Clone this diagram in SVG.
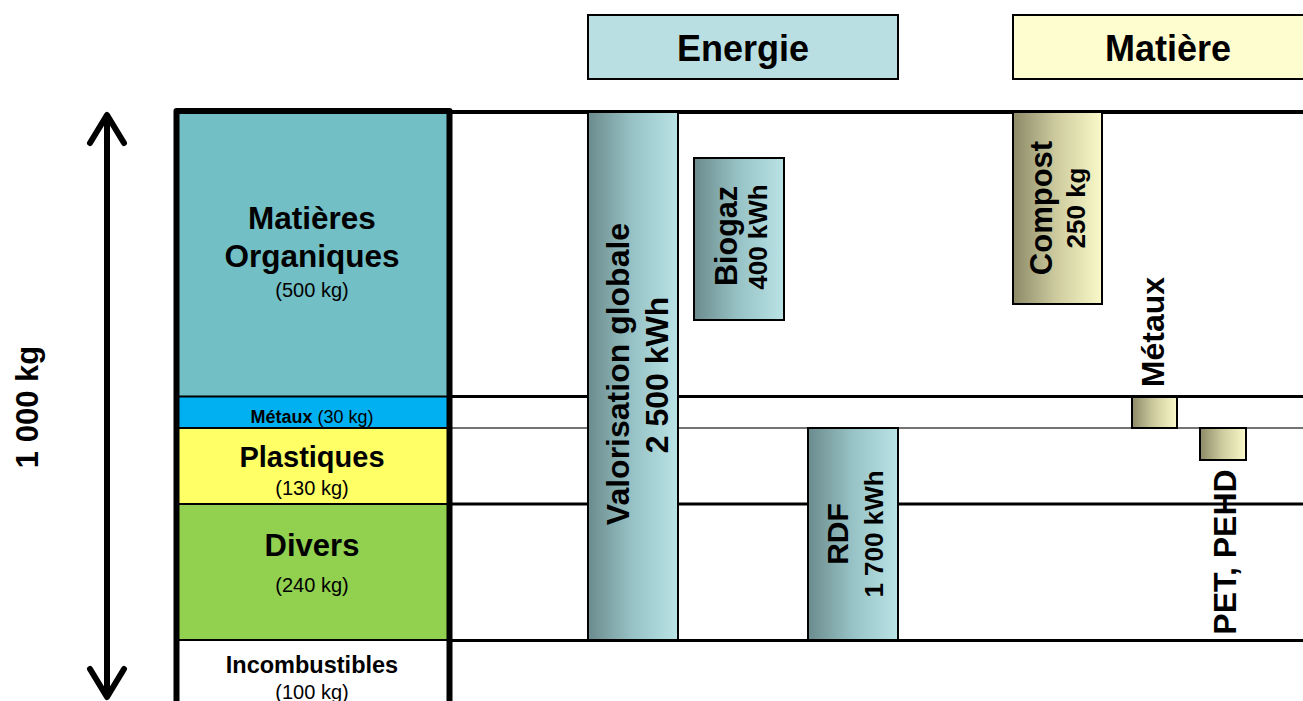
<svg xmlns="http://www.w3.org/2000/svg" width="1303" height="701" viewBox="0 0 1303 701">
<defs>
<linearGradient id="gE" x1="0" y1="0" x2="1" y2="0"><stop offset="0" stop-color="#6b8b8d"/><stop offset="0.5" stop-color="#98c3c6"/><stop offset="1" stop-color="#b9e3e5"/></linearGradient>
<linearGradient id="gM" x1="0" y1="0" x2="1" y2="0"><stop offset="0" stop-color="#8c8a67"/><stop offset="0.5" stop-color="#cfcda0"/><stop offset="1" stop-color="#f9f9c9"/></linearGradient>
<style>
text{font-family:"Liberation Sans",Arial,sans-serif;fill:#000}
.b{font-weight:bold}
.box{stroke:#000;stroke-width:2}
.hl{stroke:#000;stroke-width:3}
.div{stroke:#000;stroke-width:2}
</style>
</defs>
<g id="connectors">
<line class="hl" x1="450" y1="112" x2="1303" y2="112" style="stroke-width:4"/>
<line class="hl" x1="450" y1="396.5" x2="1303" y2="396.5"/>
<line x1="450" y1="428" x2="1303" y2="428" stroke="#444" stroke-width="1.5"/>
<line class="hl" x1="450" y1="504" x2="1303" y2="504"/>
<line class="hl" x1="450" y1="640.5" x2="1303" y2="640.5"/>
<path d="M107 117 V695 M90 143 L107 115 L124 143 M90 669 L107 697 L124 669" fill="none" stroke="#000" stroke-width="6" stroke-linecap="round" stroke-linejoin="round"/>
</g>
<g id="axis-label"><text class="b" font-size="31" text-anchor="middle" transform="translate(38,407) rotate(-90)">1 000 kg</text></g>
<g id="column">
<rect x="177" y="112" width="272" height="284" fill="#72bfc5"/>
<rect x="177" y="396" width="272" height="32" fill="#00b0f0"/>
<rect x="177" y="428" width="272" height="76" fill="#ffff66"/>
<rect x="177" y="504" width="272" height="136" fill="#92d050"/>
<rect x="177" y="640" width="272" height="70" fill="#ffffff"/>
<line class="div" x1="177" y1="396.5" x2="449" y2="396.5"/>
<line class="div" x1="177" y1="428" x2="449" y2="428"/>
<line class="div" x1="177" y1="504" x2="449" y2="504"/>
<line class="div" x1="177" y1="640" x2="449" y2="640"/>
<path d="M176.5 710 V111 H449.5 V710" fill="none" stroke="#000" stroke-width="6" stroke-linejoin="round"/>
</g>
<g id="organiques">
<text class="b" font-size="31.5" x="312" y="229" text-anchor="middle">Matières</text>
<text class="b" font-size="31.5" x="312" y="267" text-anchor="middle">Organiques</text>
<text font-size="20" x="312" y="297" text-anchor="middle">(500 kg)</text>
</g>
<g id="metaux">
<text font-size="18" x="312" y="423" text-anchor="middle"><tspan class="b">Métaux</tspan> (30 kg)</text>
</g>
<g id="plastiques">
<text class="b" font-size="29" x="312" y="467" text-anchor="middle">Plastiques</text>
<text font-size="20" x="312" y="495" text-anchor="middle">(130 kg)</text>
</g>
<g id="divers">
<text class="b" font-size="31" x="312" y="556" text-anchor="middle">Divers</text>
<text font-size="20" x="312" y="592" text-anchor="middle">(240 kg)</text>
</g>
<g id="incombustibles">
<text class="b" font-size="23.5" x="312" y="673" text-anchor="middle">Incombustibles</text>
<text font-size="20" x="312" y="699" text-anchor="middle">(100 kg)</text>
</g>
<g id="energie">
<rect class="box" x="588" y="15" width="310" height="64" fill="#b9dfe2"/>
<text class="b" font-size="36" x="743" y="61" text-anchor="middle">Energie</text>
</g>
<g id="matiere">
<rect class="box" x="1013" y="15" width="300" height="64" fill="#fdfdd0"/>
<text class="b" font-size="36" x="1168" y="61" text-anchor="middle">Matière</text>
</g>
<g id="valorisation">
<rect class="box" x="588" y="112" width="90" height="528" fill="url(#gE)"/>
<text class="b" font-size="32" text-anchor="middle" transform="translate(629,374) rotate(-90)">Valorisation globale</text>
<text class="b" font-size="32" text-anchor="middle" transform="translate(668,375) rotate(-90)">2 500 kWh</text>
</g>
<g id="biogaz">
<rect class="box" x="694" y="158" width="90" height="162" fill="url(#gE)"/>
<text class="b" font-size="30.5" text-anchor="middle" transform="translate(737,236) rotate(-90)">Biogaz</text>
<text class="b" font-size="26" text-anchor="middle" transform="translate(767,237) rotate(-90)">400 kWh</text>
</g>
<g id="rdf">
<rect class="box" x="808" y="428" width="90" height="212" fill="url(#gE)"/>
<text class="b" font-size="30" text-anchor="middle" transform="translate(848,534) rotate(-90)">RDF</text>
<text class="b" font-size="26" text-anchor="middle" transform="translate(883,534) rotate(-90)">1 700 kWh</text>
</g>
<g id="compost">
<rect class="box" x="1013" y="112" width="89" height="192" fill="url(#gM)"/>
<text class="b" font-size="31" text-anchor="middle" transform="translate(1052,208) rotate(-90)">Compost</text>
<text class="b" font-size="26" text-anchor="middle" transform="translate(1085,208) rotate(-90)">250 kg</text>
</g>
<g id="metaux-out">
<rect class="box" x="1132" y="397" width="45" height="31" fill="url(#gM)"/>
<text class="b" font-size="32" text-anchor="middle" transform="translate(1164,332) rotate(-90)">Métaux</text>
</g>
<g id="pet">
<rect class="box" x="1200" y="428" width="46" height="32" fill="url(#gM)"/>
<text class="b" font-size="32" text-anchor="middle" transform="translate(1236,552) rotate(-90)">PET, PEHD</text>
</g>
</svg>
